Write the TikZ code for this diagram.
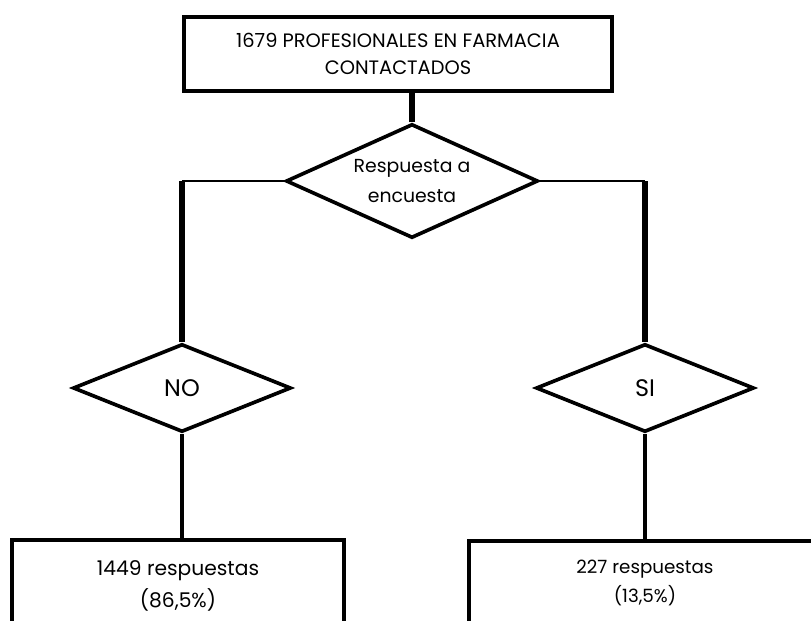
\documentclass[tikz,border=0pt]{standalone}
\usepackage{fontspec}
\setmainfont{Poppins}
\usepackage{tikz}
\usetikzlibrary{shapes.geometric, positioning}

\begin{document}
\begin{tikzpicture}[
  x=0.025cm, y=-0.025cm,
  caja/.style={rectangle, draw, line width=2.8pt, inner sep=0pt, align=center},
  decision/.style={diamond, draw, line width=2.6pt, aspect=2.2, inner sep=0pt, align=center},
  rama/.style={line width=1.8pt},
  tronco/.style={line width=3.6pt},
  enlace/.style={line width=2.2pt}
]
  \clip (0,0) rectangle (811,620);

  \node[caja, minimum width=10.7cm, minimum height=1.85cm, font=\fontsize{13.8}{19.5}\selectfont] (contactados) at (398,54) {1679 PROFESIONALES EN FARMACIA\\CONTACTADOS};
  \node[decision, minimum width=6.3cm, minimum height=2.85cm, font=\fontsize{13.4}{21}\selectfont] (respuesta) at (412,181) {Respuesta a\\encuesta};
  \node[decision, minimum width=5.45cm, minimum height=2.2cm, font=\fontsize{17}{18}\selectfont] (no) at (182,388) {NO};
  \node[decision, minimum width=5.45cm, minimum height=2.2cm, font=\fontsize{17}{18}\selectfont] (si) at (645,388) {SI};
  \node[caja, minimum width=8.3cm, minimum height=2.3cm, font=\fontsize{14.4}{22.5}\selectfont] (resNo) at (178,586) {1449 respuestas\\(86,5\%)};
  \node[caja, minimum width=8.8cm, minimum height=2.1cm, font=\fontsize{13}{20.5}\selectfont] (resSi) at (645,583) {227 respuestas\\(13,5\%)};

  \coordinate (codoNo) at (no.north |- respuesta.west);
  \coordinate (codoSi) at (si.north |- respuesta.east);

  \draw[tronco] (respuesta.north) -- (respuesta.north |- contactados.south);
  \draw[rama] (respuesta.west) -- (codoNo);
  \draw[tronco] (codoNo) -- (no.north);
  \draw[rama] (respuesta.east) -- (codoSi);
  \draw[tronco] (codoSi) -- (si.north);
  \draw[enlace] (no.south) -- (no.south |- resNo.north);
  \draw[enlace] (si.south) -- (resSi.north);
\end{tikzpicture}
\end{document}
